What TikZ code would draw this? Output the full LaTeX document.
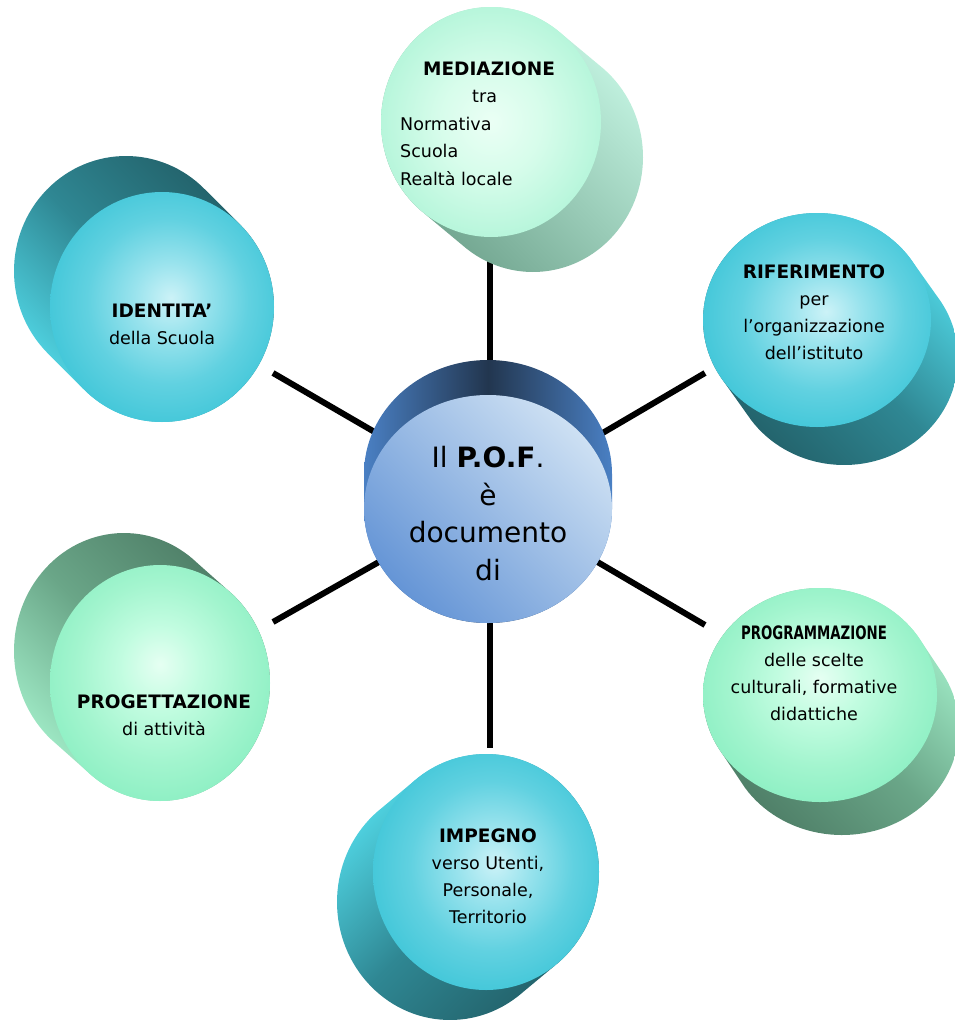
\documentclass[tikz,border=0pt]{standalone}
\usepackage{fontspec}
\setmainfont{DejaVu Sans}
\usepackage{graphicx}
\usetikzlibrary{calc}
\definecolor{cyD}{HTML}{215C64}
\definecolor{cyM}{HTML}{2F8793}
\definecolor{cyL}{HTML}{55E0EF}
\definecolor{grD}{HTML}{4A7862}
\definecolor{grM}{HTML}{6AA688}
\definecolor{grL}{HTML}{A8F5D0}
\definecolor{mdD}{HTML}{6A9E88}
\definecolor{mdL}{HTML}{C8F8E6}
\definecolor{blE}{HTML}{4A80C4}
\definecolor{blM}{HTML}{22364F}
\definecolor{blT}{HTML}{CDE0F3}
\definecolor{blB}{HTML}{6595D6}
\pgfdeclareradialshading{cyanface}{\pgfpoint{2bp}{2bp}}{rgb(0bp)=(0.80,0.95,0.97);rgb(8bp)=(0.60,0.89,0.93);rgb(18bp)=(0.38,0.82,0.88);rgb(27bp)=(0.26,0.78,0.85);rgb(50bp)=(0.26,0.78,0.85)}
\pgfdeclareradialshading{greenface}{\pgfpoint{0bp}{4bp}}{rgb(0bp)=(0.90,1.0,0.95);rgb(9bp)=(0.76,0.99,0.88);rgb(19bp)=(0.64,0.96,0.81);rgb(27bp)=(0.56,0.94,0.77);rgb(50bp)=(0.56,0.94,0.77)}
\pgfdeclareradialshading{mintface}{\pgfpoint{0bp}{0bp}}{rgb(0bp)=(0.92,1.0,0.96);rgb(12bp)=(0.84,0.99,0.92);rgb(27bp)=(0.70,0.96,0.85);rgb(50bp)=(0.70,0.96,0.85)}
\newcommand{\hd}[1]{{\fontsize{18.5}{27}\selectfont\bfseries #1}}
\newcommand{\mycyl}[8]{%
  \pgfmathsetmacro{\myTh}{atan2(#6,#5)}%
  \pgfmathsetmacro{\myTa}{\myTh-90}%
  \pgfmathsetmacro{\myTb}{\myTh+90}%
  \pgfmathsetmacro{\myTc}{\myTh+270}%
  \path[#7] ($(#1,#2)+(#5,#6)+(\myTa:#3 and #4)$)
    arc[start angle=\myTa, end angle=\myTb, x radius=#3, y radius=#4]
    -- ($(#1,#2)+(\myTb:#3 and #4)$)
    arc[start angle=\myTb, end angle=\myTc, x radius=#3, y radius=#4] -- cycle;
  \path[#8] (#1,#2) ellipse[x radius=#3, y radius=#4];
}
\tikzset{
  spoke/.style={line width=6pt, black},
  lbl/.style={align=center, anchor=base, font=\fontsize{17.5}{27}\selectfont, inner sep=0pt},
  cyface/.style={shade, shading=cyanface},
  grface/.style={shade, shading=greenface},
  mnface/.style={shade, shading=mintface}
}
\begin{document}
\begin{tikzpicture}[x=1pt, y=-1pt]
\useasboundingbox (0,0) rectangle (955,1020);
\clip (0,0) rectangle (955,1020);
% hub and spoke ends
\coordinate (hub) at (490,499);
\coordinate (eMed) at (490,250);
\coordinate (eIde) at (273,373);
\coordinate (eRif) at (705,373);
\coordinate (ePrm) at (705,625);
\coordinate (eImp) at (490,748);
\coordinate (ePrg) at (273,622);
\foreach \e in {eMed,eIde,eRif,ePrm,eImp,ePrg} \draw[spoke] (hub) -- (\e);
% central cylinder
\mycyl{488}{509}{124}{114}{0}{-35}{left color=blE, right color=blE, middle color=blM}{top color=blT, bottom color=blB, shading angle=-45}
% outer cylinders
\mycyl{491}{122}{110}{115}{42}{35}{top color=mdL, bottom color=mdD, shading angle=-45}{mnface}
\mycyl{162}{307}{112}{115}{-36}{-36}{top color=cyD, bottom color=cyL, middle color=cyM, shading angle=-45}{cyface}
\mycyl{817}{320}{114}{107}{27}{38}{top color=cyL, bottom color=cyD, middle color=cyM, shading angle=-45}{cyface}
\mycyl{820}{695}{117}{107}{22}{33}{top color=grL, bottom color=grD, middle color=grM, shading angle=-45}{grface}
\mycyl{486}{872}{113}{118}{-36}{30}{top color=cyL, bottom color=cyD, middle color=cyM, shading angle=45}{cyface}
\mycyl{160}{683}{110}{118}{-36}{-32}{top color=grD, bottom color=grL, middle color=grM, shading angle=-45}{grface}
% texts (anchor base = baseline of the last line)
\node[lbl, font=\fontsize{28}{37.5}\selectfont] (pof) at (488,580) {Il \textbf{P.O.F}.\\è\\documento\\di};
\node[lbl, align=left, anchor=base west, font=\fontsize{17.5}{27.5}\selectfont] (med) at (400,185)
  {\hspace*{23pt}\hd{MEDIAZIONE}\\\hspace*{72pt}tra\\Normativa\\Scuola\\Realtà locale};
\node[lbl] (ide) at (162,344) {\hd{IDENTITA’}\\della Scuola};
\node[lbl] (rif) at (814,359) {\hd{RIFERIMENTO}\\per\\l’organizzazione\\dell’istituto};
\node[lbl] (prm) at (814,720) {\scalebox{0.72}[1]{\hd{PROGRAMMAZIONE}}\\delle scelte\\culturali, formative\\didattiche};
\node[lbl] (imp) at (488,923) {\hd{IMPEGNO}\\verso Utenti,\\Personale,\\Territorio};
\node[lbl] (prg) at (164,735) {\hd{PROGETTAZIONE}\\di attività};
\end{tikzpicture}
\end{document}
